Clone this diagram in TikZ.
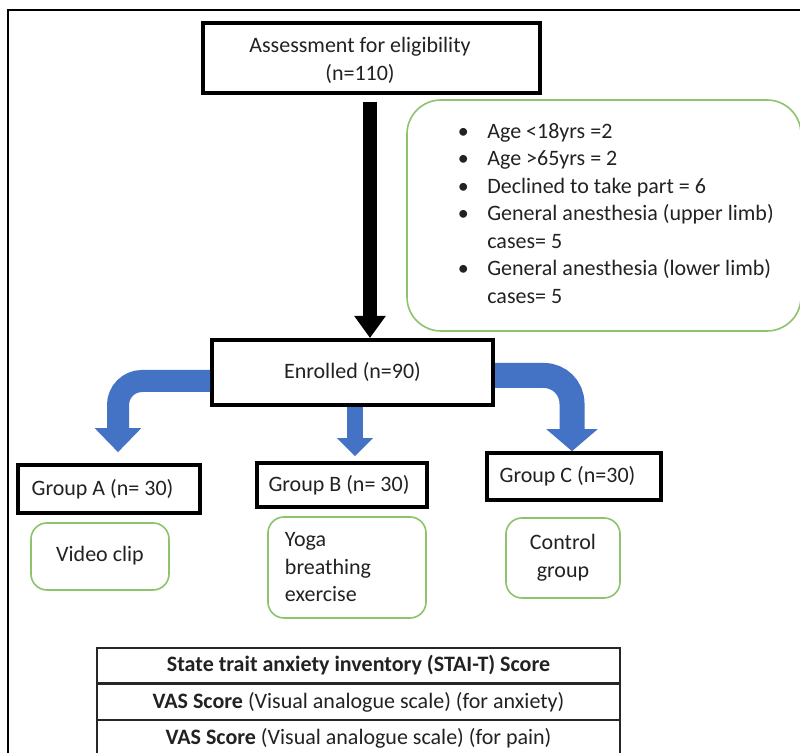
\documentclass[tikz,border=0pt]{standalone}
\usepackage{fontspec}
\setmainfont{Carlito}
\usetikzlibrary{arrows.meta}
\definecolor{obBlue}{HTML}{4472C4}
\definecolor{obGreen}{HTML}{8CC36C}
\definecolor{txt}{HTML}{222222}
\begin{document}
\begin{tikzpicture}[x=0.5pt,y=-0.5pt,
  font=\fontsize{11}{13.75}\selectfont, text=txt,
  boldbox/.style={draw=black, line width=2pt, fill=white, inner sep=0pt, align=center},
  groupbox/.style={draw=black, line width=1.8pt, fill=white, inner sep=0pt},
  greenbox/.style={draw=obGreen, line width=0.8pt, rounded corners=8pt, inner ysep=0pt},
  plaintext/.style={inner sep=0pt, align=center},
  tablecell/.style={draw=black!85, line width=0.7pt, minimum width=261.5pt, minimum height=17.5pt, inner sep=0pt},
  blackarrow/.style={draw=black, line width=7pt, -{Triangle[width=15pt,length=11pt]}},
  bluearrow/.style={draw=obBlue, line width=11pt, rounded corners=12pt, -{Triangle[width=22.5pt,length=12pt]}},
]
\useasboundingbox (0,0) rectangle (800,753);
\fill[white] (0,0) rectangle (800,753);
% outer frame
\draw[line width=0.8pt] (8,753) -- (8,10) -- (800,10);

% top box
\node[boldbox, minimum width=168.5pt, minimum height=35pt] (assess) at (371.5,58) {};
\node[plaintext] (assesstext) at (360,60.5) {Assessment for eligibility\\(n=110)};

% exclusions box
\node[greenbox, rounded corners=17pt, minimum width=197pt, minimum height=115.5pt] (excl) at (604,215.5) {};
\node[inner sep=0pt, anchor=west] (excltext) at (457.5,215.5) {%
  \begin{tabular}{@{}l@{\hspace{9.25pt}}l@{}}
  \textbullet & Age <18yrs =2\\
  \textbullet & Age >65yrs = 2\\
  \textbullet & Declined to take part = 6\\
  \textbullet & General anesthesia (upper limb)\\
  & cases= 5\\
  \textbullet & General anesthesia (lower limb)\\
  & cases= 5
  \end{tabular}};

% enrolled
\node[boldbox, minimum width=140.5pt, minimum height=32.5pt] (enrolled) at (352.5,372.5) {\raisebox{2.5pt}{Enrolled (n=90)}};

% groups
\node[groupbox, minimum width=91pt, minimum height=24pt] (groupA) at (109,489) {Group A (n= 30)\hspace*{6.5pt}};
\node[groupbox, minimum width=85pt, minimum height=22pt] (groupB) at (342,485) {Group B (n= 30)\hspace*{3pt}};
\node[groupbox, minimum width=87pt, minimum height=23.5pt] (groupC) at (574,476.5) {Group C (n=30)\hspace*{6.5pt}};

% interventions
\node[greenbox, minimum width=69pt, minimum height=33.5pt, align=center] (video) at (100,556.5) {\raisebox{2.25pt}{Video clip}};
\node[greenbox, minimum height=50.5pt, inner xsep=8.5pt, text width=62pt, align=left] (yoga) at (347,567.5) {Yoga\\breathing\\exercise};
\node[greenbox, minimum width=57pt, minimum height=40pt, align=center] (control) at (563,558) {Control\\group};

% score table
\node[tablecell] (row1) at (358.5,665.5) {\textbf{State trait anxiety inventory (STAI-T) Score}};
\node[tablecell, anchor=north] (row2) at (row1.south) {\textbf{VAS Score} (Visual analogue scale) (for anxiety)};
\node[tablecell, anchor=north] (row3) at (row2.south) {\textbf{VAS Score} (Visual analogue scale) (for pain)};

% arrows
\coordinate (ax) at (370,0);
\draw[blackarrow, shorten <=3.5pt] (assess.south -| ax) -- (enrolled.north -| ax);
\draw[bluearrow, shorten >=5.5pt] ([yshift=-4.25pt]enrolled.west) -| ([xshift=4.5pt]groupA.north);
\draw[bluearrow, line width=8pt, rounded corners=0pt, shorten >=2.5pt, -{Triangle[width=17.5pt,length=9pt]}] ([xshift=1.25pt]enrolled.south) -- ([xshift=1.25pt]enrolled.south |- groupB.north);
\draw[bluearrow, line width=12.5pt, rounded corners=14pt, -{Triangle[width=25pt,length=11pt]}] ([yshift=-1.5pt]enrolled.east) -| ([xshift=-1pt]groupC.north);
\end{tikzpicture}
\end{document}
